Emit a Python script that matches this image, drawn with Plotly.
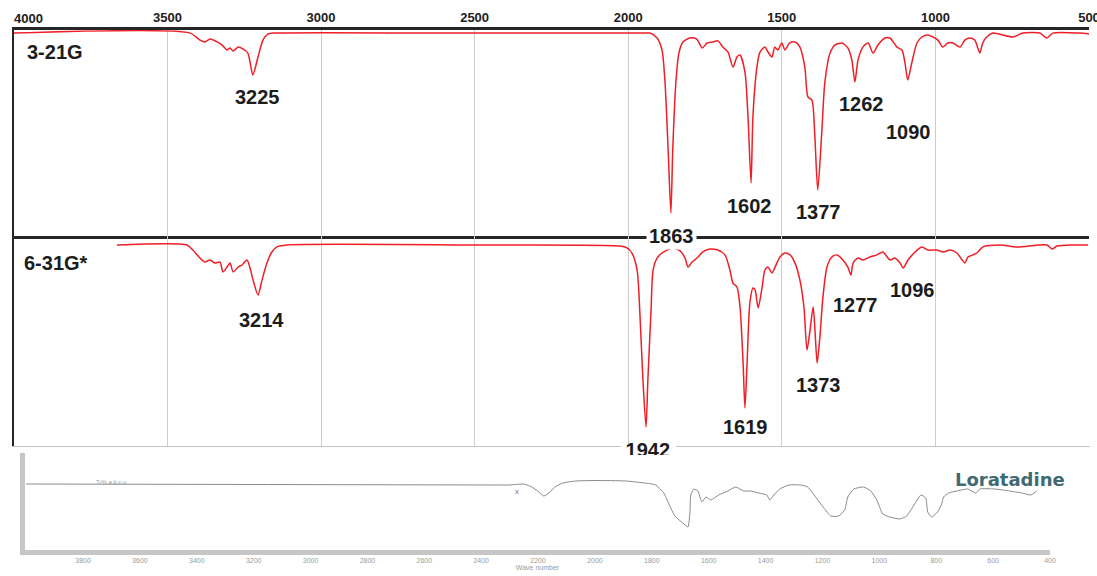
import plotly.graph_objects as go

# ---------------- data ----------------
# 3-21G computed spectrum: wavenumber (cm-1) and transmittance (%)
wn_321 = [4000, 3426, 3394, 3378, 3361, 3338, 3322, 3306, 3296, 3286, 3270, 3254, 3238, 3222, 3205,
          3189, 3172, 3156, 2500, 1951, 1929, 1906, 1890, 1880, 1870, 1861, 1855, 1845, 1835, 1822,
          1799, 1777, 1759, 1743, 1724, 1708, 1692, 1675, 1659, 1646, 1636, 1620, 1610, 1600, 1594,
          1581, 1571, 1555, 1545, 1532, 1523, 1513, 1500, 1490, 1474, 1457, 1441, 1425, 1415, 1402,
          1393, 1383, 1370, 1360, 1343, 1327, 1304, 1285, 1272, 1262, 1252, 1236, 1219, 1203, 1187,
          1164, 1148, 1125, 1109, 1099, 1090, 1077, 1060, 1044, 1025, 1008, 992, 976, 960, 943,
          920, 904, 888, 872, 862, 855, 846, 833, 813, 748, 715, 660, 637, 618, 530, 500]
t_321 = [98.5, 98.5, 95.1, 94.2, 95.6, 94.2, 92.7, 90.3, 91.3, 89.8, 91.7, 90.8, 88.8, 78.2, 86.9,
         95.1, 98.1, 98.5, 98.5, 98.5, 98.5, 96.1, 90.3, 74.3, 41.7, 11.2, 41.7, 74.3, 88.8, 94.2,
         96.1, 95.6, 91.3, 93.7, 94.2, 94.7, 91.7, 89.3, 82.0, 86.9, 87.9, 79.6, 57.8, 25.7, 57.8,
         82.0, 89.3, 91.7, 89.3, 86.9, 91.7, 90.3, 93.7, 90.3, 93.7, 94.2, 91.7, 82.0, 67.5, 66.0,
         50.0, 22.3, 50.0, 74.3, 88.8, 92.7, 93.7, 91.3, 85.4, 74.8, 85.4, 91.7, 93.7, 88.8, 92.7,
         96.1, 96.1, 91.7, 90.3, 84.0, 75.7, 84.0, 93.7, 96.6, 97.6, 96.6, 95.1, 91.7, 93.7, 93.7,
         91.7, 95.1, 96.1, 95.1, 91.3, 88.8, 93.7, 96.6, 98.5, 96.6, 98.5, 98.5, 96.1, 98.5, 98.5, 98.1]

# 6-31G* computed spectrum
wn_631 = [3664, 3436, 3417, 3394, 3378, 3361, 3345, 3329, 3319, 3306, 3296, 3286, 3270, 3257, 3241,
          3231, 3221, 3205, 3192, 3176, 3160, 3143, 3111, 2500, 2027, 2004, 1988, 1971, 1962, 1952,
          1942, 1936, 1926, 1919, 1906, 1890, 1874, 1854, 1831, 1815, 1805, 1792, 1776, 1757, 1734,
          1708, 1685, 1669, 1659, 1646, 1636, 1626, 1620, 1613, 1604, 1594, 1587, 1577, 1564, 1555,
          1545, 1532, 1522, 1506, 1490, 1473, 1457, 1441, 1428, 1418, 1408, 1398, 1392, 1385, 1376,
          1366, 1353, 1337, 1320, 1301, 1285, 1275, 1268, 1252, 1236, 1213, 1190, 1171, 1148, 1132,
          1115, 1105, 1089, 1066, 1044, 1024, 995, 975, 952, 930, 913, 904, 894, 878, 865,
          845, 790, 734, 637, 620, 604, 552, 503]
t_631 = [95.7, 95.7, 93.3, 89.5, 87.6, 88.6, 87.1, 87.6, 82.9, 85.2, 87.1, 82.9, 85.2, 86.2, 88.6,
         84.8, 79.0, 71.9, 79.0, 87.1, 92.4, 94.8, 95.7, 95.7, 95.2, 94.3, 91.9, 83.8, 63.3, 31.4,
         9.0, 31.4, 63.3, 83.8, 89.5, 91.9, 93.3, 94.3, 92.9, 89.5, 85.2, 87.6, 89.5, 92.4, 93.8,
         93.3, 91.0, 83.8, 77.6, 75.7, 66.2, 39.5, 18.1, 39.5, 68.1, 75.2, 74.3, 65.7, 75.7, 83.8,
         85.2, 82.4, 85.2, 90.0, 91.9, 91.0, 87.1, 79.0, 66.2, 45.7, 55.2, 66.2, 55.2, 39.5, 51.9,
         71.0, 85.2, 90.0, 91.0, 88.6, 85.2, 81.4, 87.1, 89.5, 88.6, 90.0, 91.0, 92.4, 88.6, 89.5,
         87.1, 84.8, 88.6, 92.4, 94.8, 93.3, 93.3, 92.4, 93.3, 91.9, 88.6, 87.1, 90.0, 91.0, 91.9,
         94.8, 95.7, 94.8, 95.7, 93.8, 95.2, 95.7, 95.7]

# Experimental Loratadine spectrum
wn_lor = [4000, 2334, 2300, 2253, 2229, 2201, 2180, 2162, 2141, 2113, 2067, 2000, 1891, 1825, 1786,
          1758, 1740, 1719, 1691, 1673, 1666, 1663, 1652, 1638, 1624, 1610, 1593, 1565, 1533, 1505,
          1477, 1452, 1424, 1396, 1385, 1371, 1350, 1318, 1276, 1252, 1224, 1195, 1171, 1143, 1122,
          1111, 1090, 1055, 1030, 1009, 988, 963, 928, 904, 876, 854, 837, 830, 816, 795,
          781, 774, 756, 728, 689, 661, 647, 594, 542, 499, 468, 447]
t_lor = [68, 67, 67, 68, 66, 61, 56, 59, 65, 69, 71, 71.5, 71, 69, 67,
         59, 48, 36, 29, 25, 40, 57, 63, 61, 50, 55, 52, 57, 61, 65,
         61, 61, 59, 57, 52, 57, 63, 67, 67, 65, 55, 44, 36, 36, 42,
         55, 63, 65, 61, 52, 38, 35, 33, 36, 48, 57, 54, 40, 35, 40,
         48, 55, 59, 61, 63, 59, 63, 63, 61, 59, 57, 61]

# Labels
peaks_321 = ["3225", "1863", "1602", "1377", "1262", "1090"]
peaks_631 = ["3214", "1942", "1619", "1373", "1277", "1096"]
top_ticks = [3500, 3000, 2500, 2000, 1500, 1000, 500]
top_first_tick = "4000"
lor_ticks = [3800, 3600, 3400, 3200, 3000, 2800, 2600, 2400, 2200, 2000, 1800, 1600, 1400, 1200, 1000, 800, 600, 400]
panel_names = ["3-21G", "6-31G*"]
lor_name = "Loratadine"

# ---------------- layout helpers (pixels -> paper) ----------------
W, H = 1097, 576
def fx(p):
    return p / W
def fy(p):
    return 1 - p / H

FONT = "Liberation Sans, Arial, sans-serif"
RED = "#f01e26"
DARK = "#262626"
GRID = "#cdcdcd"
LAB = dict(family=FONT, size=20, color="#1c1c1c", weight="bold")
SPEC_LINE = dict(color=RED, width=1.5, shape="spline", smoothing=0.7)

fig = go.Figure()
fig.add_trace(go.Scatter(x=wn_321, y=t_321, xaxis="x", yaxis="y", mode="lines",
                         line=SPEC_LINE, hoverinfo="skip"))
fig.add_trace(go.Scatter(x=wn_631, y=t_631, xaxis="x2", yaxis="y2", mode="lines",
                         line=SPEC_LINE, hoverinfo="skip"))
fig.add_trace(go.Scatter(x=wn_lor, y=t_lor, xaxis="x3", yaxis="y3", mode="lines",
                         line=dict(color="#8a8a8a", width=1, shape="spline", smoothing=0.5),
                         hoverinfo="skip"))
# clipped label under 6-31G* panel
fig.add_trace(go.Scatter(x=[1936], y=[0.0137], xaxis="x4", yaxis="y4", mode="text",
                         text=[peaks_631[1]], textfont=LAB, cliponaxis=True, hoverinfo="skip"))

xd = [fx(13.8), fx(1089)]
fig.update_layout(
    width=W, height=H, margin=dict(l=0, r=0, t=0, b=0, autoexpand=False),
    paper_bgcolor="white", plot_bgcolor="rgba(0,0,0,0)", showlegend=False,
    xaxis=dict(domain=xd, range=[4000, 500], side="top", anchor="y", automargin=False,
               showline=True, linecolor=DARK, linewidth=3, mirror=True,
               showgrid=True, gridcolor=GRID, gridwidth=1, tickvals=top_ticks, ticks="",
               tickfont=dict(family=FONT, size=13, color="#202020", weight="bold"),
               zeroline=False, ticklabeloverflow="allow"),
    yaxis=dict(domain=[fy(236), fy(30)], range=[0, 100], anchor="x", showline=True,
               automargin=False,
               linecolor=DARK, linewidth=2, showticklabels=False, showgrid=False,
               zeroline=False, ticks=""),
    xaxis2=dict(domain=xd, range=[4000, 500], anchor="y2", showline=False, automargin=False,
                showgrid=True, gridcolor=GRID, gridwidth=1, tickvals=top_ticks,
                showticklabels=False, ticks="", zeroline=False),
    yaxis2=dict(domain=[fy(446), fy(236)], range=[0, 100], anchor="x2", showline=True,
                automargin=False,
                linecolor=DARK, linewidth=2, showticklabels=False, showgrid=False,
                zeroline=False, ticks=""),
    xaxis3=dict(domain=[fx(25), fx(1050)], range=[4004, 400], anchor="y3", automargin=False,
                showline=True, linecolor="#c6c6c6", linewidth=5, showgrid=False,
                tickvals=lor_ticks, ticks="", zeroline=False,
                tickfont=dict(family=FONT, size=7, color="#9a9a9a"),
                title=dict(text="Wave number", font=dict(family=FONT, size=7, color="#9a9a9a"),
                           standoff=0),
                ticklabeloverflow="allow"),
    yaxis3=dict(domain=[fy(550), fy(453)], range=[2, 99], anchor="x3", showline=True,
                automargin=False,
                linecolor="#c6c6c6", linewidth=5, showticklabels=False, showgrid=False,
                zeroline=False, ticks=""),
    xaxis4=dict(domain=xd, range=[4000, 500], anchor="y4", visible=False, automargin=False),
    yaxis4=dict(domain=[fy(455), fy(236)], range=[0, 1], anchor="x4", visible=False, automargin=False),
)

ann = []
# first top tick label, left-aligned as in the reference
ann.append(dict(x=fx(12), y=fy(18), xref="paper", yref="paper", text=top_first_tick,
                showarrow=False, xanchor="left", yanchor="middle",
                font=dict(family=FONT, size=13, color="#202020", weight="bold")))
# panel names
ann.append(dict(x=3964, y=89.3, xref="x", yref="y", text=panel_names[0], showarrow=False,
                xanchor="left", yanchor="middle", font=LAB))
ann.append(dict(x=3973, y=87.1, xref="x2", yref="y2", text=panel_names[1], showarrow=False,
                xanchor="left", yanchor="middle", font=LAB))
# peak labels, panel 1
pos1_x = [3208, 1858, 1604, 1382, 1242, 1086]
pos1_y = [67.5, 0.0, 14.6, 11.7, 64.1, 50.5]
for t, xv, yv in zip(peaks_321, pos1_x, pos1_y):
    a = dict(x=xv, y=yv, xref="x", yref="y", text=t, showarrow=False,
             xanchor="center", yanchor="middle", font=LAB)
    if t == "1863":
        a.update(bgcolor="white", borderpad=2)
    ann.append(a)
# peak labels, panel 2 (1942 is drawn as clipped text trace)
pos2_x = [3195, None, 1617, 1382, 1259, 1076]
pos2_y = [60.0, None, 9.0, 29.0, 67.1, 74.3]
for t, xv, yv in zip(peaks_631, pos2_x, pos2_y):
    if xv is None:
        continue
    ann.append(dict(x=xv, y=yv, xref="x2", yref="y2", text=t, showarrow=False,
                    xanchor="center", yanchor="middle", font=LAB))
# loratadine panel texts
ann.append(dict(x=542, y=73, xref="x3", yref="y3", text=lor_name, showarrow=False,
                xanchor="center", yanchor="middle",
                font=dict(family="DejaVu Sans, sans-serif", size=18, color="#3f6a73", weight="bold")))
ann.append(dict(x=3698, y=70, xref="x3", yref="y3", text="Tr% a.b.c.u.", showarrow=False,
                xanchor="center", yanchor="middle", font=dict(family=FONT, size=6, color="#a0a0a0")))
ann.append(dict(x=2275, y=61, xref="x3", yref="y3", text="x", showarrow=False,
                xanchor="center", yanchor="middle", font=dict(family=FONT, size=8, color="#777777")))
fig.update_layout(annotations=ann)

# bottom border of the 6-31G* panel, broken around the clipped label
shapes = [
    dict(type="line", xref="paper", yref="paper", x0=fx(12), x1=fx(621), y0=fy(446.5), y1=fy(446.5),
         line=dict(color="#c4c4c4", width=1)),
    dict(type="line", xref="paper", yref="paper", x0=fx(676), x1=fx(1090), y0=fy(446.5), y1=fy(446.5),
         line=dict(color="#c4c4c4", width=1)),
]
fig.update_layout(shapes=shapes)

# remove the browser's default 8px page margin so the figure sits at the window's corner
fig.write_html("out.html", config={"displayModeBar": False},
               post_script="document.body.style.margin='0px';document.body.style.overflow='hidden';")
